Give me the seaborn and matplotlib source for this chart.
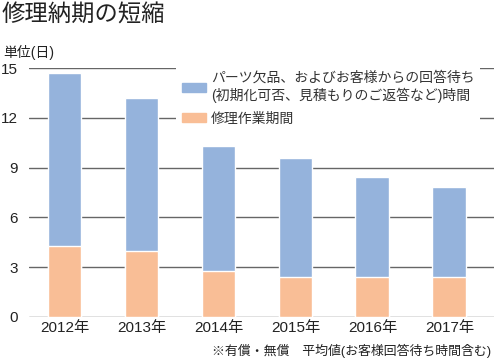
import numpy as np
import matplotlib
matplotlib.use("Agg")
import matplotlib.pyplot as plt
import seaborn as sns
from matplotlib.patches import Patch

sns.set_style("white")
plt.rcParams['font.family'] = ['Liberation Sans', 'Noto Sans CJK JP', 'DejaVu Sans']

# data
years = ['2012年', '2013年', '2014年', '2015年', '2016年', '2017年']
total_days = [14.7, 13.2, 10.3, 9.6, 8.45, 7.85]
repair_days = [4.3, 4.0, 2.8, 2.4, 2.4, 2.4]
yticks = [0, 3, 6, 9, 12, 15]

blue = '#95b3dc'
orange = '#f9be96'
text_col = '#222222'

fig = plt.figure(figsize=(4.94, 3.61), dpi=100)
ax = fig.add_axes([0.059, 0.122, 0.941, 0.689])

sns.barplot(x=years, y=total_days, color=blue, saturation=1, width=0.44, ax=ax, zorder=2)
sns.barplot(x=years, y=repair_days, color=orange, saturation=1, width=0.44, ax=ax, zorder=3)

ax.set_ylim(0, 15)
ax.set_xlim(-0.46, 5.58)
ax.set_yticks(yticks)
ax.yaxis.grid(True, color='#666666', lw=1.0, zorder=0)
ax.set_axisbelow(True)
for s in ax.spines.values():
    s.set_visible(False)
ax.tick_params(axis='both', length=0, labelsize=11, labelcolor=text_col, pad=3)
ax.tick_params(axis='y', pad=8)
ax.set_xlabel('')
ax.set_ylabel('')

handles = [Patch(color=blue), Patch(color=orange)]
labels = ['パーツ欠品、およびお客様からの回答待ち\n(初期化可否、見積もりのご返答など)時間', '修理作業期間']
leg = ax.legend(handles, labels, loc='upper left', bbox_to_anchor=(0.302, 1.04),
                frameon=True, fontsize=10, handlelength=1.7, handleheight=0.7,
                handletextpad=0.4, labelspacing=0.6, borderpad=0.4)
leg.get_frame().set_facecolor('white')
leg.get_frame().set_edgecolor('none')
leg.get_frame().set_alpha(1)
leg.set_zorder(5)
for t in leg.get_texts():
    t.set_color('#333333')
    t.set_linespacing(1.25)

fig.text(0.004, 0.99, '修理納期の短縮', fontsize=16.8, color=text_col, va='top', ha='left')
fig.text(0.006, 0.835, '単位(日)', fontsize=10, color=text_col, va='bottom', ha='left')
fig.text(0.995, 0.008, '※有償・無償　平均値(お客様回答待ち時間含む)', fontsize=9.3,
         color=text_col, va='bottom', ha='right')

fig.savefig('out.png', dpi=100)
